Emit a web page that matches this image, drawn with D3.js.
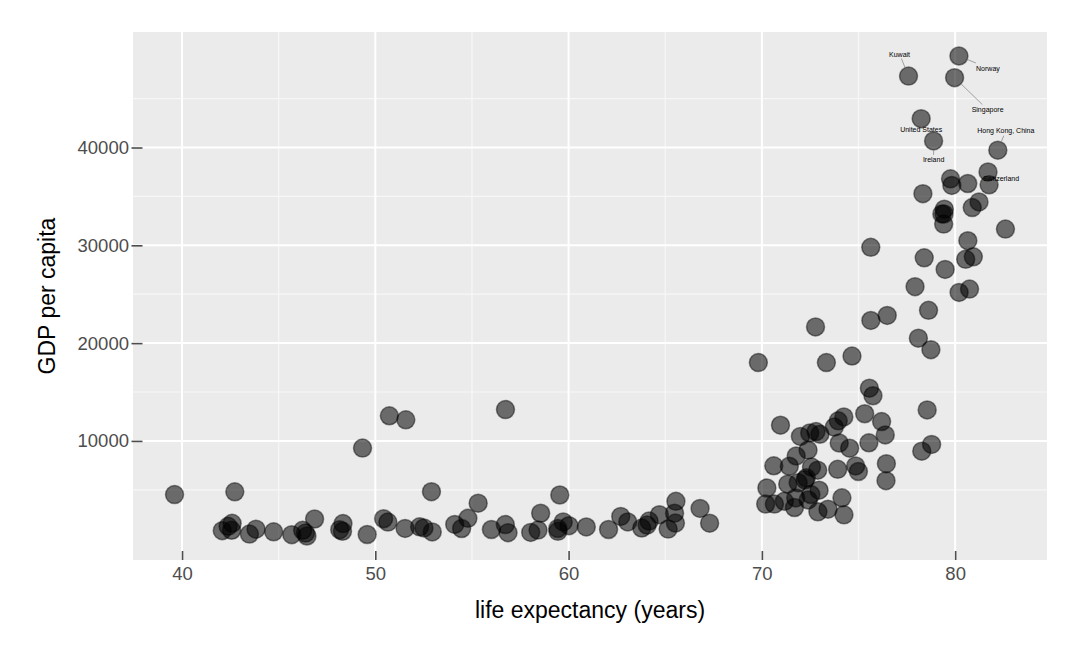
<!DOCTYPE html>
<html>
<head>
<meta charset="utf-8">
<script src="https://cdn.jsdelivr.net/npm/d3@7"></script>
<style>
  html, body { margin: 0; padding: 0; background: #fff; }
  svg text { font-family: "Liberation Sans", Arial, Helvetica, sans-serif; }
</style>
</head>
<body>
<div id="chart"></div>
<script>
// Gapminder 2007: one entry per country
const countries = [
  "Afghanistan","Albania","Algeria","Angola","Argentina","Australia","Austria","Bahrain","Bangladesh","Belgium",
  "Benin","Bolivia","Bosnia and Herzegovina","Botswana","Brazil","Bulgaria","Burkina Faso","Burundi","Cambodia","Cameroon",
  "Canada","Central African Republic","Chad","Chile","China","Colombia","Comoros","Congo, Dem. Rep.","Congo, Rep.","Costa Rica",
  "Cote d'Ivoire","Croatia","Cuba","Czech Republic","Denmark","Djibouti","Dominican Republic","Ecuador","Egypt","El Salvador",
  "Equatorial Guinea","Eritrea","Ethiopia","Finland","France","Gabon","Gambia","Germany","Ghana","Greece",
  "Guatemala","Guinea","Guinea-Bissau","Haiti","Honduras","Hong Kong, China","Hungary","Iceland","India","Indonesia",
  "Iran","Iraq","Ireland","Israel","Italy","Jamaica","Japan","Jordan","Kenya","Korea, Dem. Rep.",
  "Korea, Rep.","Kuwait","Lebanon","Lesotho","Liberia","Libya","Madagascar","Malawi","Malaysia","Mali",
  "Mauritania","Mauritius","Mexico","Mongolia","Montenegro","Morocco","Mozambique","Myanmar","Namibia","Nepal",
  "Netherlands","New Zealand","Nicaragua","Niger","Nigeria","Norway","Oman","Pakistan","Panama","Paraguay",
  "Peru","Philippines","Poland","Portugal","Puerto Rico","Reunion","Romania","Rwanda","Sao Tome and Principe","Saudi Arabia",
  "Senegal","Serbia","Sierra Leone","Singapore","Slovak Republic","Slovenia","Somalia","South Africa","Spain","Sri Lanka",
  "Sudan","Swaziland","Sweden","Switzerland","Syria","Taiwan","Tanzania","Thailand","Togo","Trinidad and Tobago",
  "Tunisia","Turkey","Uganda","United Kingdom","United States","Uruguay","Venezuela","Vietnam","West Bank and Gaza","Yemen, Rep.",
  "Zambia","Zimbabwe"
];

const lifeExp = [
  43.828,76.423,72.301,42.731,75.320,81.235,79.829,75.635,64.062,79.441,
  56.728,65.554,74.852,50.728,72.390,73.005,52.295,49.580,59.723,50.430,
  80.653,44.741,50.651,78.553,72.961,72.889,65.152,46.462,55.322,78.782,
  48.328,75.748,78.273,76.486,78.332,54.791,72.235,74.994,71.338,71.878,
  51.579,58.040,52.947,79.313,80.657,56.735,59.448,79.406,60.022,79.483,
  70.259,56.007,46.388,60.916,70.198,82.208,73.338,81.757,64.698,70.650,
  70.964,59.545,78.885,80.745,80.546,72.567,82.603,72.535,54.110,67.297,
  78.623,77.588,71.993,42.592,45.678,73.952,59.443,48.303,74.241,54.467,
  64.164,72.801,76.195,66.803,74.543,71.164,42.082,62.069,52.906,63.785,
  79.762,80.204,72.899,56.867,46.859,80.196,75.640,65.483,75.537,71.752,
  71.421,71.688,75.563,78.098,78.746,76.442,72.476,46.242,65.528,72.777,
  63.062,74.002,42.568,79.972,74.663,77.926,48.159,49.339,80.941,72.396,
  58.556,39.613,80.884,81.701,74.143,78.400,52.517,70.616,58.420,69.819,
  73.923,71.777,51.542,79.425,78.242,76.384,73.747,74.249,73.422,62.698,
  42.384,43.487
];

const gdpPercap = [
  974.58,5937.03,6223.37,4797.23,12779.38,34435.37,36126.49,29796.05,1391.25,33692.61,
  1441.28,3822.14,7446.30,12569.85,9065.80,10680.79,1217.03,430.07,1713.78,2042.10,
  36319.24,706.02,1704.06,13171.64,4959.11,7006.58,986.15,277.55,3632.56,9645.06,
  1544.75,14619.22,8948.10,22833.31,35278.42,2082.48,6025.37,6873.26,5581.18,5728.35,
  12154.09,641.37,690.81,33207.08,30470.02,13206.48,752.75,32170.37,1327.61,27538.41,
  5186.05,942.65,579.23,1201.64,3548.33,39724.98,18008.94,36180.79,2452.21,3540.65,
  11605.71,4471.06,40675.00,25523.28,28569.72,7320.88,31656.07,4519.46,1463.25,1593.07,
  23348.14,47306.99,10461.06,1569.33,414.51,12057.50,1044.77,759.35,12451.66,1042.58,
  1803.15,10956.99,11977.57,3095.77,9253.90,3820.18,823.69,944.00,4811.06,1091.36,
  36797.93,25185.01,2749.32,619.68,2013.98,49357.19,22316.19,2605.95,9809.19,4172.84,
  7408.91,3190.48,15389.92,20509.65,19328.71,7670.12,10808.48,863.09,1598.44,21654.83,
  1712.47,9786.53,862.54,47143.18,18678.31,25768.26,926.14,9269.66,28821.06,3970.10,
  2602.39,4513.48,33859.75,37506.42,4184.55,28718.28,1107.48,7458.40,882.97,18008.51,
  7092.92,8458.28,1056.38,33203.26,42951.65,10611.46,11415.81,2441.58,3025.35,2280.77,
  1271.21,469.71
];

const labelled = ["Kuwait","Norway","Singapore","United States","Ireland","Hong Kong, China","Switzerland"];

const xTicks = [40, 50, 60, 70, 80];
const xMinor = [45, 55, 65, 75];
const yTicks = [10000, 20000, 30000, 40000];
const yMinor = [5000, 15000, 25000, 35000, 45000];

// where the repelled labels sit relative to their point (px)
const labelNudge = {
  "Kuwait": [-9, -22],
  "Norway": [29, 12],
  "Singapore": [33, 32],
  "United States": [0, 11],
  "Ireland": [0, 18.5],
  "Hong Kong, China": [8, -19.5],
  "Switzerland": [13, 7]
};

const width = 1080, height = 660;
const panel = { left: 133, right: 1047, top: 32, bottom: 560 };

const data = countries.map((c, i) => ({ country: c, lifeExp: lifeExp[i], gdp: gdpPercap[i] }));

function expand(ext, f) {
  const pad = (ext[1] - ext[0]) * f;
  return [ext[0] - pad, ext[1] + pad];
}

const x = d3.scaleLinear()
  .domain(expand(d3.extent(lifeExp), 0.05))
  .range([panel.left, panel.right]);

const y = d3.scaleLinear()
  .domain(expand(d3.extent(gdpPercap), 0.05))
  .range([panel.bottom, panel.top]);

const svg = d3.select("#chart").append("svg")
  .attr("width", width)
  .attr("height", height);

svg.append("rect")
  .attr("x", panel.left)
  .attr("y", panel.top)
  .attr("width", panel.right - panel.left)
  .attr("height", panel.bottom - panel.top)
  .attr("fill", "#ebebeb");

const grid = svg.append("g");

grid.selectAll(".vminor").data(xMinor).join("line")
  .attr("x1", d => x(d)).attr("x2", d => x(d))
  .attr("y1", panel.top).attr("y2", panel.bottom)
  .attr("stroke", "#f7f7f7").attr("stroke-width", 1.2);

grid.selectAll(".hminor").data(yMinor).join("line")
  .attr("x1", panel.left).attr("x2", panel.right)
  .attr("y1", d => y(d)).attr("y2", d => y(d))
  .attr("stroke", "#f7f7f7").attr("stroke-width", 1.2);

grid.selectAll(".vmajor").data(xTicks).join("line")
  .attr("x1", d => x(d)).attr("x2", d => x(d))
  .attr("y1", panel.top).attr("y2", panel.bottom)
  .attr("stroke", "#fff").attr("stroke-width", 2);

grid.selectAll(".hmajor").data(yTicks).join("line")
  .attr("x1", panel.left).attr("x2", panel.right)
  .attr("y1", d => y(d)).attr("y2", d => y(d))
  .attr("stroke", "#fff").attr("stroke-width", 2);

// axes: ticks point into the panel, no domain line
const xAxis = svg.append("g")
  .attr("transform", `translate(0,${panel.bottom})`)
  .call(d3.axisBottom(x).tickValues(xTicks).tickSizeInner(-9).tickSizeOuter(0).tickPadding(7));

const yAxis = svg.append("g")
  .attr("transform", `translate(${panel.left - 1.5},0)`)
  .call(d3.axisLeft(y).tickValues(yTicks).tickFormat(d3.format("d")).tickSizeInner(-11).tickSizeOuter(0).tickPadding(2.5));

[xAxis, yAxis].forEach(a => {
  a.select(".domain").remove();
  a.selectAll(".tick line").attr("stroke", "#4d4d4d").attr("stroke-width", 1.6);
  a.selectAll(".tick text")
    .attr("fill", "#4d4d4d")
    .style("font-size", "18.5px")
    .style("font-family", "'Liberation Sans', Arial, sans-serif");
});

// points
const r = 9;
svg.append("g").selectAll("circle").data(data).join("circle")
  .attr("cx", d => x(d.lifeExp))
  .attr("cy", d => y(d.gdp))
  .attr("r", r)
  .attr("fill", "#000")
  .attr("fill-opacity", 0.55)
  .attr("stroke", "#000")
  .attr("stroke-opacity", 0.45)
  .attr("stroke-width", 1.5);

// labels with connector segments
const labG = svg.append("g");
data.filter(d => labelled.includes(d.country)).forEach(d => {
  const px = x(d.lifeExp), py = y(d.gdp);
  const [dx, dy] = labelNudge[d.country];
  const tx = px + dx, ty = py + dy;
  const t = labG.append("text")
    .attr("x", tx).attr("y", ty)
    .attr("text-anchor", "middle")
    .attr("dominant-baseline", "central")
    .style("font-size", "7px")
    .attr("fill", "#000")
    .text(d.country);
  const bb = t.node().getBBox();
  const hw = bb.width / 2 + 1.5, hh = bb.height / 2 + 1;
  const len = Math.hypot(dx, dy);
  if (len < 1) return;
  const ux = dx / len, uy = dy / len;
  // distance from label centre to its box edge along the segment
  const s = Math.min(ux ? hw / Math.abs(ux) : Infinity, uy ? hh / Math.abs(uy) : Infinity);
  const start = r + 0.5, end = len - s;
  if (end - start < 2) return;
  labG.insert("line", "text")
    .attr("x1", px + ux * start).attr("y1", py + uy * start)
    .attr("x2", px + ux * end).attr("y2", py + uy * end)
    .attr("stroke", "#8c8c8c")
    .attr("stroke-width", 0.8);
});

// axis titles
svg.append("text")
  .attr("x", (panel.left + panel.right) / 2)
  .attr("y", 618)
  .attr("text-anchor", "middle")
  .style("font-size", "23px")
  .attr("fill", "#000")
  .text("life expectancy (years)");

svg.append("text")
  .attr("transform", `translate(55,${(panel.top + panel.bottom) / 2}) rotate(-90)`)
  .attr("text-anchor", "middle")
  .style("font-size", "23px")
  .attr("fill", "#000")
  .text("GDP per capita");
</script>
</body>
</html>
